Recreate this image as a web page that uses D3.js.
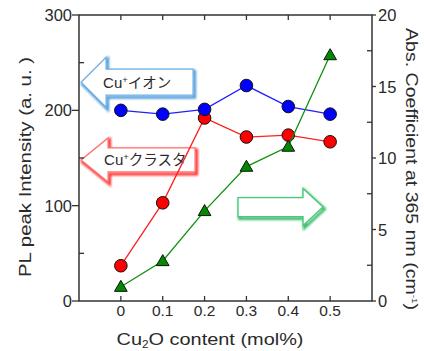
<!DOCTYPE html>
<html>
<head>
<meta charset="utf-8">
<script src="https://cdn.jsdelivr.net/npm/d3@7"></script>
<style>
  html, body { margin: 0; padding: 0; background: #fff; }
  svg { display: block; }
  text { font-family: "Liberation Sans", Arial, sans-serif; fill: #2a2a2a; }
  .jp { font-family: "Noto Sans CJK JP", "Liberation Sans", sans-serif; }
</style>
</head>
<body>
<svg id="chart" width="424" height="351"></svg>
<script>
// Cu2O content (mol%)
const content = [0, 0.1, 0.2, 0.3, 0.4, 0.5];
// PL peak intensity (a. u.), left axis
const ionPL = [200, 196, 201, 226, 204, 196];
const clusterPL = [37, 103, 192, 172, 174, 167];
// Absorption coefficient at 365 nm (cm^-1), right axis
const absCoef = [1.0, 2.8, 6.3, 9.4, 10.8, 17.2];

const xTicks = [0, 0.1, 0.2, 0.3, 0.4, 0.5];
const leftTicks = [0, 100, 200, 300];
const leftMinor = [50, 150, 250];
const rightTicks = [0, 5, 10, 15, 20];
const rightMinor = [2.5, 7.5, 12.5, 17.5];

const m = { left: 79, right: 372, top: 15, bottom: 301 };
const svg = d3.select("#chart");

const x = d3.scaleLinear().domain([-0.1, 0.6]).range([m.left, m.right]);
const yL = d3.scaleLinear().domain([0, 300]).range([m.bottom, m.top]);
const yR = d3.scaleLinear().domain([0, 20]).range([m.bottom, m.top]);

const defs = svg.append("defs");
const blur = defs.append("filter").attr("id", "soft")
  .attr("x", "-20%").attr("y", "-30%").attr("width", "140%").attr("height", "160%");
blur.append("feGaussianBlur").attr("stdDeviation", 1.2);

// Annotation arrows: tip anchored in data space, sizes in pixels
function arrowPath(tx, ty, dir, total, headLen, headHalf, bodyHalf) {
  const hb = tx + dir * headLen, end = tx + dir * total;
  return `M${tx},${ty} L${hb},${ty - headHalf} L${hb},${ty - bodyHalf} L${end},${ty - bodyHalf}` +
         ` L${end},${ty + bodyHalf} L${hb},${ty + bodyHalf} L${hb},${ty + headHalf} Z`;
}
function drawArrow(spec) {
  const tx = x(spec.x), ty = yL(spec.y);
  const d = arrowPath(tx, ty, spec.dir, spec.total, spec.headLen, spec.headHalf, spec.bodyHalf);
  const g = svg.append("g");
  g.append("path").attr("d", d).attr("transform", "translate(1.5,2)")
    .attr("fill", "none").attr("stroke", spec.shadow).attr("stroke-width", 3)
    .attr("filter", "url(#soft)").attr("opacity", 0.9);
  g.append("path").attr("d", d).attr("fill", "#fff")
    .attr("stroke", spec.color).attr("stroke-width", 1.3).attr("stroke-linejoin", "miter");
  return { tx, ty };
}

const ionArrow = drawArrow({ x: -0.095, y: 229.5, dir: 1, total: 112, headLen: 25, headHalf: 25, bodyHalf: 13,
  color: "#6fb2e6", shadow: "#3d8fd6" });
const clusterArrow = drawArrow({ x: -0.095, y: 148, dir: 1, total: 114, headLen: 27, headHalf: 22, bodyHalf: 12,
  color: "#ff7070", shadow: "#ff1a1a" });
drawArrow({ x: 0.483, y: 98.5, dir: -1, total: 85, headLen: 20, headHalf: 18.5, bodyHalf: 9.5,
  color: "#45c97a", shadow: "#22b35a" });

function cuLabel(px, py, rest) {
  const t = svg.append("text").attr("x", px).attr("y", py).attr("font-size", 15);
  t.append("tspan").text("Cu");
  t.append("tspan").attr("font-size", 9.5).attr("dy", -5).text("+");
  t.append("tspan").attr("class", "jp").attr("dy", 5).attr("font-size", 14.5).text(rest);
}
cuLabel(ionArrow.tx + 22, ionArrow.ty + 5.5, "イオン");
cuLabel(clusterArrow.tx + 23, clusterArrow.ty + 5.5, "クラスタ");

// Frame
svg.append("rect").attr("x", m.left).attr("y", m.top)
  .attr("width", m.right - m.left).attr("height", m.bottom - m.top)
  .attr("fill", "none").attr("stroke", "#333").attr("stroke-width", 1.5);

const tickColor = "#333";
// Bottom and top ticks point inward
svg.append("g").selectAll("line").data(xTicks).join("line")
  .attr("x1", d => x(d)).attr("x2", d => x(d))
  .attr("y1", m.bottom).attr("y2", m.bottom - 5)
  .attr("stroke", tickColor).attr("stroke-width", 1.3);
svg.append("g").selectAll("line").data(xTicks).join("line")
  .attr("x1", d => x(d)).attr("x2", d => x(d))
  .attr("y1", m.top).attr("y2", m.top + 5)
  .attr("stroke", tickColor).attr("stroke-width", 1.3);
svg.append("g").selectAll("text").data(xTicks).join("text")
  .attr("x", d => x(d)).attr("y", 316).attr("text-anchor", "middle")
  .attr("font-size", 15.5).text(d => d === 0 ? "0" : d3.format(".1f")(d));

// Left axis: major outward, minor inward
svg.append("g").selectAll("line").data(leftTicks).join("line")
  .attr("x1", m.left - 7).attr("x2", m.left)
  .attr("y1", d => yL(d)).attr("y2", d => yL(d))
  .attr("stroke", tickColor).attr("stroke-width", 1.3);
svg.append("g").selectAll("line").data(leftMinor).join("line")
  .attr("x1", m.left).attr("x2", m.left + 5)
  .attr("y1", d => yL(d)).attr("y2", d => yL(d))
  .attr("stroke", tickColor).attr("stroke-width", 1.3);
svg.append("g").selectAll("text").data(leftTicks).join("text")
  .attr("x", 72).attr("y", d => yL(d) + 6).attr("text-anchor", "end")
  .attr("font-size", 16.5).text(d => d);

// Right axis
svg.append("g").selectAll("line").data(rightTicks).join("line")
  .attr("x1", m.right).attr("x2", m.right + 4)
  .attr("y1", d => yR(d)).attr("y2", d => yR(d))
  .attr("stroke", tickColor).attr("stroke-width", 1.3);
svg.append("g").selectAll("line").data(rightMinor).join("line")
  .attr("x1", m.right - 5).attr("x2", m.right)
  .attr("y1", d => yR(d)).attr("y2", d => yR(d))
  .attr("stroke", tickColor).attr("stroke-width", 1.3);
svg.append("g").selectAll("text").data(rightTicks).join("text")
  .attr("x", 378).attr("y", d => yR(d) + 6).attr("text-anchor", "start")
  .attr("font-size", 16.5).text(d => d);

// Axis titles
svg.append("text").attr("transform", "translate(31,167) rotate(-90)")
  .attr("text-anchor", "middle").attr("font-size", 16)
  .attr("textLength", 220).attr("lengthAdjust", "spacingAndGlyphs")
  .text("PL peak Intensity (a. u. )");
const rt = svg.append("text").attr("transform", "translate(406,169) rotate(90)")
  .attr("text-anchor", "middle").attr("font-size", 16)
  .attr("textLength", 282).attr("lengthAdjust", "spacingAndGlyphs");
rt.append("tspan").text("Abs. Coefficient at 365 nm (cm");
rt.append("tspan").attr("font-size", 8).attr("dy", -6).text("-1");
rt.append("tspan").attr("dy", 6).text(")");
const xt = svg.append("text").attr("x", 210).attr("y", 345).attr("text-anchor", "middle")
  .attr("font-size", 17).attr("textLength", 187).attr("lengthAdjust", "spacingAndGlyphs");
xt.append("tspan").text("Cu");
xt.append("tspan").attr("font-size", 10).attr("dy", 3).text("2");
xt.append("tspan").attr("dy", -3).text("O content (mol%)");

// Series
const lineL = d3.line().x((d, i) => x(content[i])).y(d => yL(d));
const lineR = d3.line().x((d, i) => x(content[i])).y(d => yR(d));

function circles(vals, fill) {
  svg.append("g").selectAll("circle").data(vals).join("circle")
    .attr("cx", (d, i) => x(content[i])).attr("cy", d => yL(d)).attr("r", 6.3)
    .attr("fill", fill).attr("stroke", "#111").attr("stroke-width", 1);
}

svg.append("path").datum(clusterPL).attr("d", lineL)
  .attr("fill", "none").attr("stroke", "#ff2020").attr("stroke-width", 1.3);
circles(clusterPL, "#ff0000");

svg.append("path").datum(ionPL).attr("d", lineL)
  .attr("fill", "none").attr("stroke", "#2020ff").attr("stroke-width", 1.3);
circles(ionPL, "#0000ff");

svg.append("path").datum(absCoef).attr("d", lineR)
  .attr("fill", "none").attr("stroke", "#109010").attr("stroke-width", 1.3);
const tri = d3.symbol().type(d3.symbolTriangle).size(70);
svg.append("g").selectAll("path").data(absCoef).join("path")
  .attr("d", tri)
  .attr("transform", (d, i) => `translate(${x(content[i])},${yR(d) + 1})`)
  .attr("fill", "#008a00").attr("stroke", "#111").attr("stroke-width", 1);
</script>
</body>
</html>
